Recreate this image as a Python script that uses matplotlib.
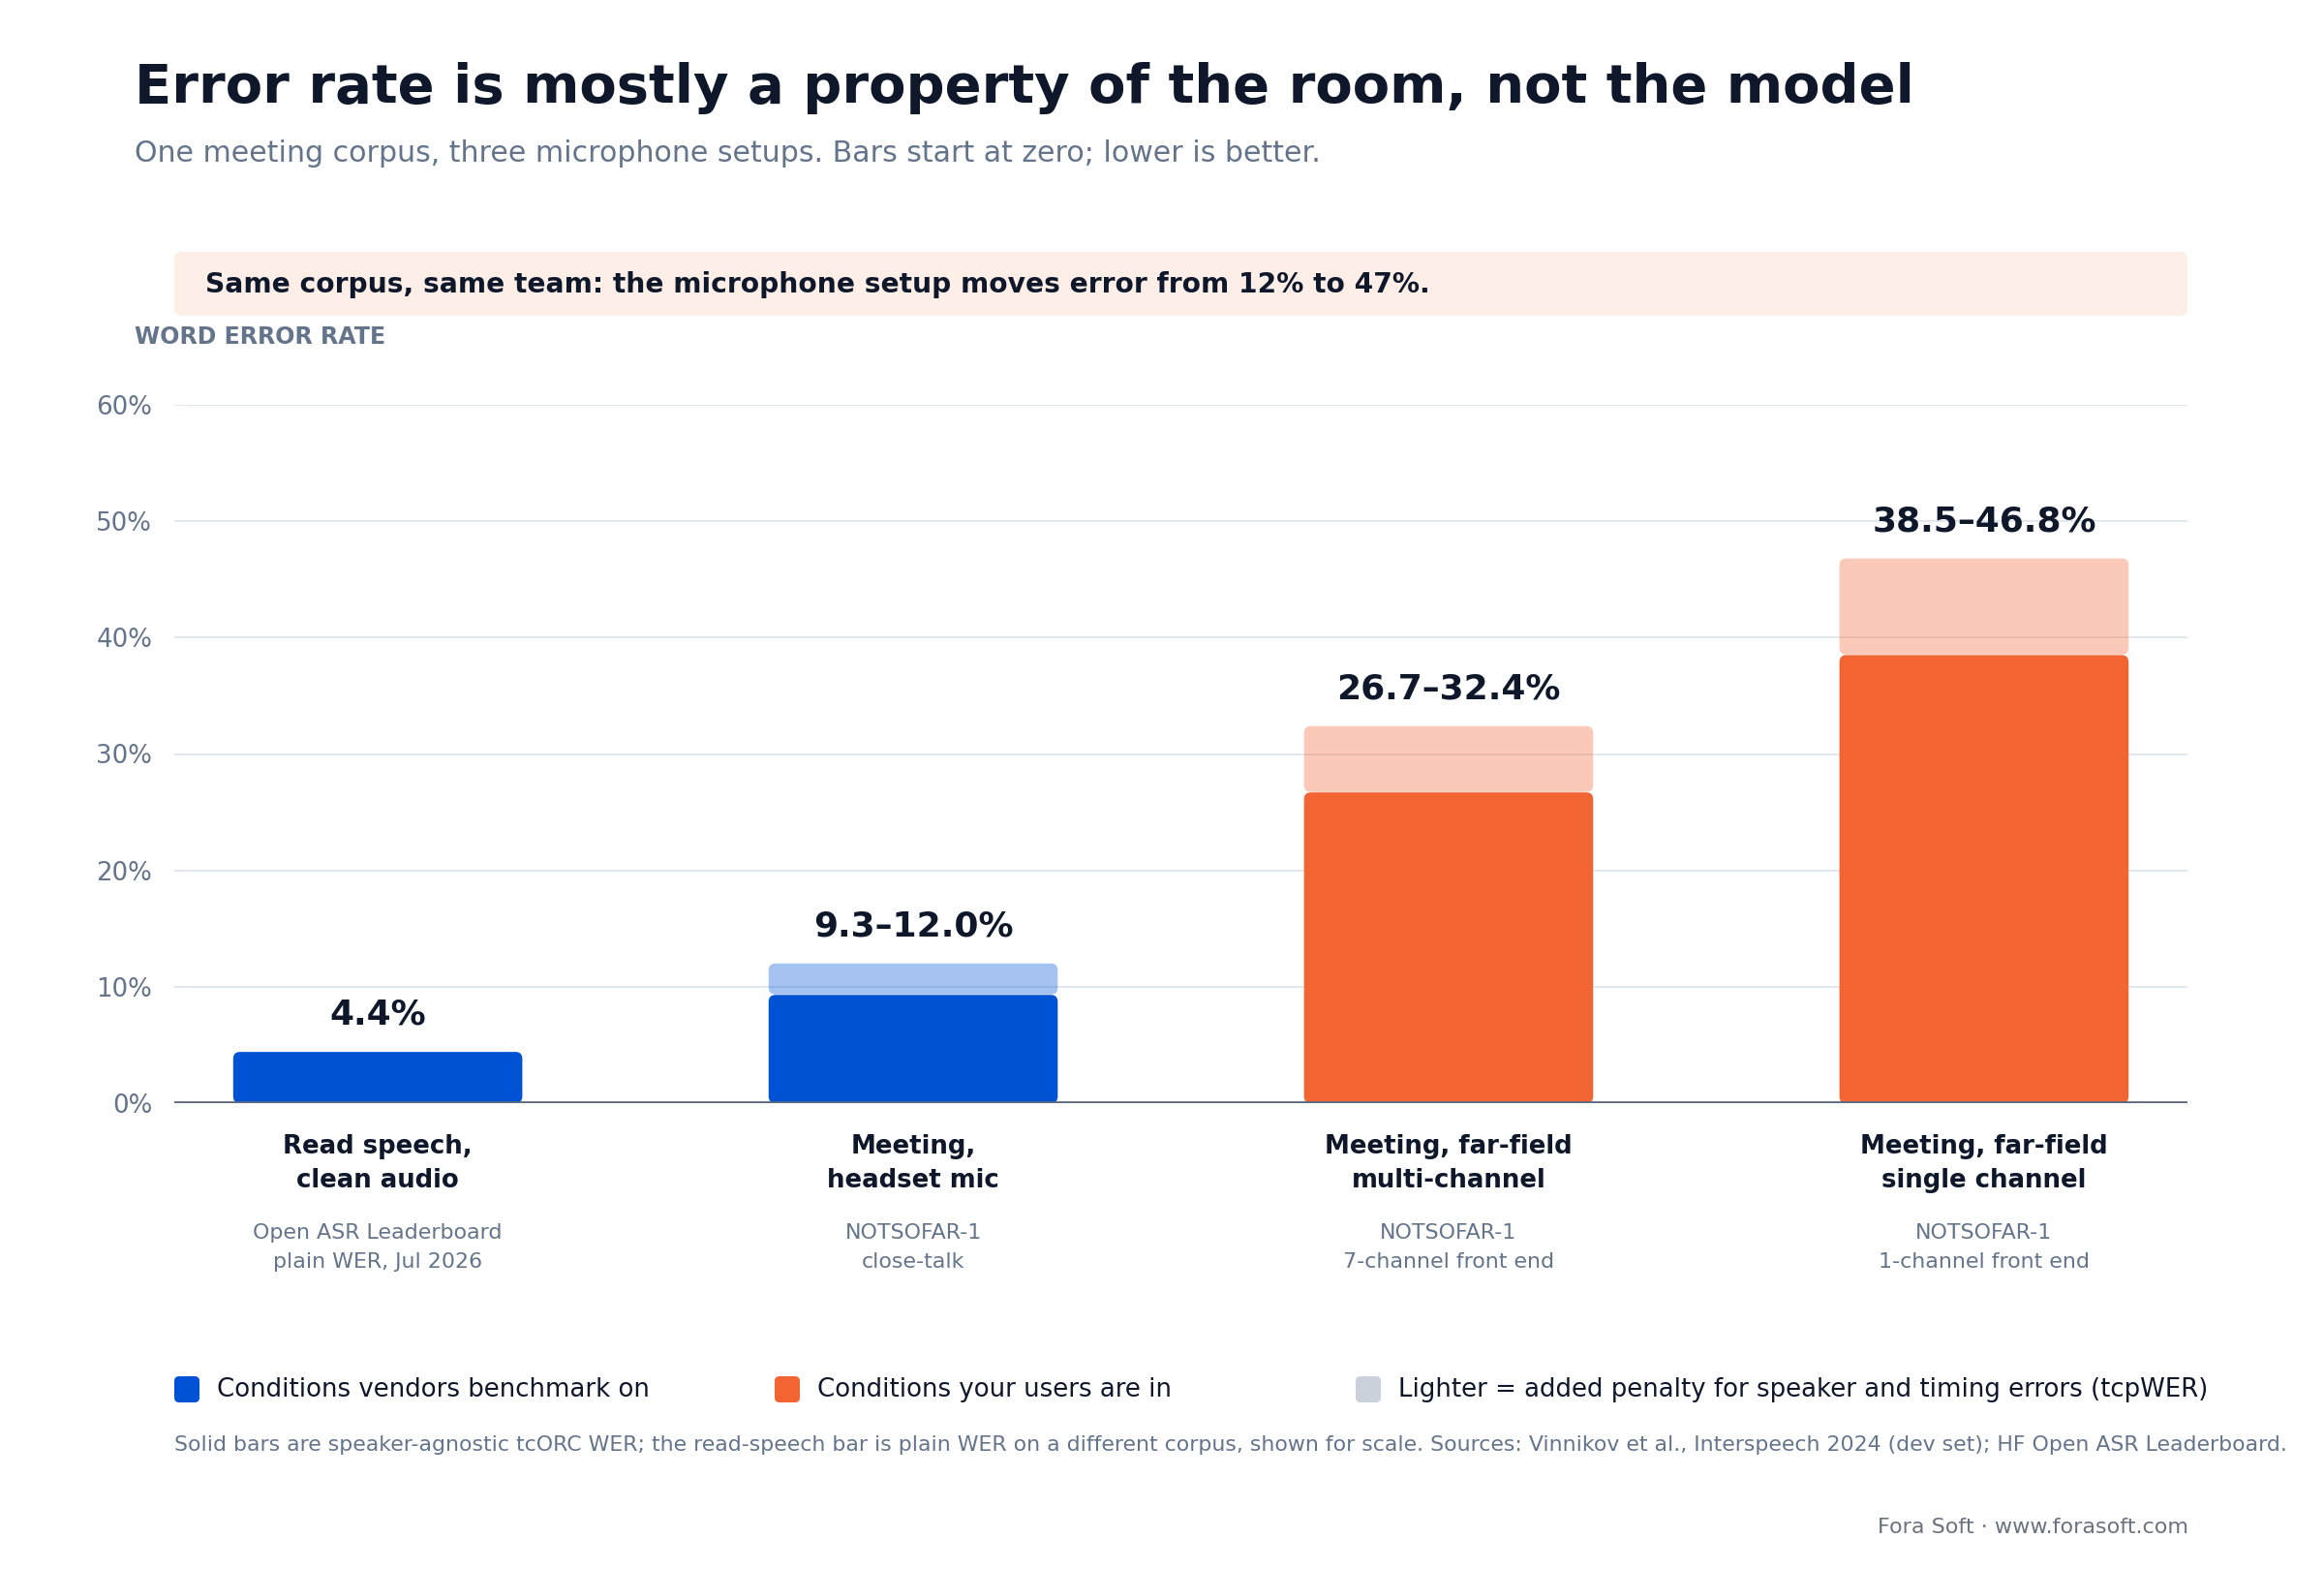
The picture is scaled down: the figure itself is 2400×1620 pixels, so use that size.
import matplotlib
matplotlib.use("Agg")
import matplotlib.pyplot as plt
from matplotlib.patches import FancyBboxPatch
from matplotlib.transforms import blended_transform_factory

# ---------------- data ----------------
categories = ["Read speech,\nclean audio", "Meeting,\nheadset mic",
              "Meeting, far-field\nmulti-channel", "Meeting, far-field\nsingle channel"]
sources = ["Open ASR Leaderboard\nplain WER, Jul 2026", "NOTSOFAR-1\nclose-talk",
           "NOTSOFAR-1\n7-channel front end", "NOTSOFAR-1\n1-channel front end"]
solid_wer = [4.4, 9.3, 26.7, 38.5]
total_wer = [4.4, 12.0, 32.4, 46.8]
groups = ["vendor", "vendor", "user", "user"]
value_labels = ["4.4%", "9.3–12.0%", "26.7–32.4%", "38.5–46.8%"]
yticks = [0, 10, 20, 30, 40, 50, 60]
ytick_labels = ["0%", "10%", "20%", "30%", "40%", "50%", "60%"]
legend_labels = ["Conditions vendors benchmark on", "Conditions your users are in",
                 "Lighter = added penalty for speaker and timing errors (tcpWER)"]

title = "Error rate is mostly a property of the room, not the model"
subtitle = "One meeting corpus, three microphone setups. Bars start at zero; lower is better."
callout = "Same corpus, same team: the microphone setup moves error from 12% to 47%."
axis_title = "WORD ERROR RATE"
footnote = ("Solid bars are speaker-agnostic tcORC WER; the read-speech bar is plain WER on a different corpus, "
            "shown for scale. Sources: Vinnikov et al., Interspeech 2024 (dev set); HF Open ASR Leaderboard.")
credit = "Fora Soft · www.forasoft.com"

# ---------------- style ----------------
BLUE = "#0052d4"
ORANGE = "#f26532"
GREY_SW = "#cbd1da"
DARK = "#0f172a"
SLATE = "#64748b"
BASE = "#5b6a80"
GRID = "#e2e8f0"
CALLOUT_BG = "#fdeee7"
color_map = {"vendor": BLUE, "user": ORANGE}

W, H = 2400, 1620
fig = plt.figure(figsize=(16, 10.8), dpi=150)
fig.patch.set_facecolor("white")


def fx(px):
    return px / W


def fy(py):
    return 1 - py / H


# axes placement (pixels)
AX_L, AX_R, AX_T, AX_B = 180, 2259, 418, 1139
ax = fig.add_axes([fx(AX_L), fy(AX_B), fx(AX_R - AX_L), (AX_B - AX_T) / H])
xlim = (-0.38, 3.38)
ylim = (0, 60)
ax.set_xlim(*xlim)
ax.set_ylim(*ylim)

x = list(range(len(categories)))
bar_w = 0.54

# rounding in data units with pixel-circular corners
xu_per_px = (xlim[1] - xlim[0]) / (AX_R - AX_L)
yu_per_px = (ylim[1] - ylim[0]) / (AX_B - AX_T)
aspect = yu_per_px / xu_per_px
r = 7 * xu_per_px
gap = 0.5 * yu_per_px


def rounded(rect, color, alpha=1.0, z=3, bottom_shift=0.0):
    bx, by = rect.get_x(), rect.get_y() + bottom_shift
    bw, bh = rect.get_width(), rect.get_height() - bottom_shift
    rect.remove()
    p = FancyBboxPatch((bx, by), bw, bh,
                       boxstyle=f"round,pad=0,rounding_size={r}",
                       mutation_aspect=aspect, facecolor=color, edgecolor="none",
                       alpha=alpha, zorder=z)
    ax.add_patch(p)


colors = [color_map[g] for g in groups]
extra = [t - s for s, t in zip(solid_wer, total_wer)]
light = ax.bar(x, extra, bottom=solid_wer, width=bar_w)
for rect, c, e in zip(light, colors, extra):
    if e > 0:
        rounded(rect, c, alpha=0.35, z=3, bottom_shift=gap)
    else:
        rect.remove()
solid = ax.bar(x, solid_wer, width=bar_w)
for rect, c in zip(solid, colors):
    rounded(rect, c, z=4)

# grid / spines / ticks
ax.set_yticks(yticks)
ax.set_yticklabels(ytick_labels)
ax.yaxis.grid(True, color=GRID, linewidth=1.0)
ax.set_axisbelow(True)
for s in ax.spines.values():
    s.set_visible(False)
ax.axhline(0, color=BASE, linewidth=1.8, zorder=6, solid_capstyle="butt")
ax.tick_params(axis="y", length=0, pad=11, labelsize=12.5, labelcolor=SLATE)
ax.set_xticks([])

# value labels
for xi, t, lbl in zip(x, total_wer, value_labels):
    ax.annotate(lbl, (xi, t), xytext=(0, 18.5), textcoords="offset points",
                ha="center", va="center", fontsize=17.3, fontweight="bold", color=DARK)

# category + source labels
trans = blended_transform_factory(ax.transData, fig.transFigure)
for xi, cat, src in zip(x, categories, sources):
    l1, l2 = cat.split("\n")
    ax.text(xi, fy(1184), l1, transform=trans, ha="center", va="center",
            fontsize=12.5, fontweight="bold", color=DARK)
    ax.text(xi, fy(1219), l2, transform=trans, ha="center", va="center",
            fontsize=12.5, fontweight="bold", color=DARK)
    s1, s2 = src.split("\n")
    ax.text(xi, fy(1273), s1, transform=trans, ha="center", va="center",
            fontsize=10.6, color=SLATE)
    ax.text(xi, fy(1303), s2, transform=trans, ha="center", va="center",
            fontsize=10.6, color=SLATE)

# title / subtitle
fig.text(fx(139), fy(106), title, ha="left", va="baseline",
         fontsize=26.9, fontweight="bold", color=DARK)
fig.text(fx(139), fy(167), subtitle, ha="left", va="baseline",
         fontsize=14.4, color=SLATE)

# callout box
fasp = (1 / H) / (1 / W)
cb = FancyBboxPatch((fx(180), fy(326)), fx(2259 - 180), (326 - 260) / H,
                    boxstyle=f"round,pad=0,rounding_size={8 / W}", mutation_aspect=fasp,
                    facecolor=CALLOUT_BG, edgecolor="none", transform=fig.transFigure)
fig.add_artist(cb)
fig.text(fx(212), fy(294), callout, ha="left", va="center",
         fontsize=13.5, fontweight="bold", color=DARK)

fig.text(fx(139), fy(348), axis_title, ha="left", va="center",
         fontsize=11.4, fontweight="bold", color=SLATE)

# legend
leg_x = [180, 800, 1400]
leg_colors = [BLUE, ORANGE, GREY_SW]
for lx, lc, lt in zip(leg_x, leg_colors, legend_labels):
    sw = FancyBboxPatch((fx(lx), fy(1448)), fx(26), 27 / H,
                        boxstyle=f"round,pad=0,rounding_size={5 / W}", mutation_aspect=fasp,
                        facecolor=lc, edgecolor="none", transform=fig.transFigure)
    fig.add_artist(sw)
    fig.text(fx(lx + 44), fy(1435), lt, ha="left", va="center",
             fontsize=12.5, color=DARK)

fig.text(fx(180), fy(1492), footnote, ha="left", va="center", fontsize=10.55, color=SLATE)
fig.text(fx(2260), fy(1577), credit, ha="right", va="center", fontsize=10.7, color="#6b7280")

fig.savefig("out.png", dpi=150, facecolor="white")
